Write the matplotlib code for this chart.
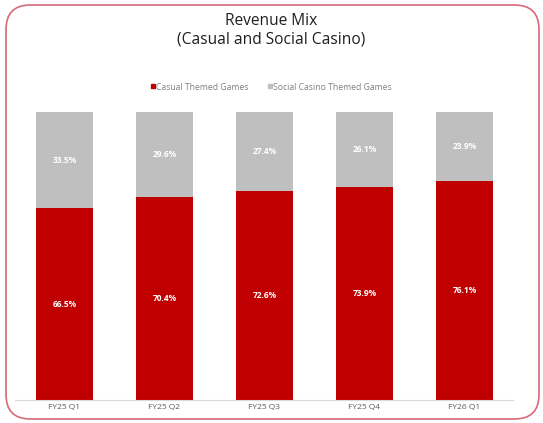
import matplotlib.pyplot as plt
from matplotlib.patches import FancyBboxPatch
from matplotlib.lines import Line2D

plt.rcParams['font.family'] = ['Open Sans', 'DejaVu Sans']

quarters = ['FY25 Q1', 'FY25 Q2', 'FY25 Q3', 'FY25 Q4', 'FY26 Q1']
casual = [66.5, 70.4, 72.6, 73.9, 76.1]
social = [33.5, 29.6, 27.4, 26.1, 23.9]

RED = '#C00000'
GREY = '#BFBFBF'

fig = plt.figure(figsize=(5.43, 4.23), dpi=100)

# rounded frame around the whole card
frame = FancyBboxPatch((6 / 543, 4 / 423), 533 / 543, 414 / 423,
                       boxstyle='round,pad=0,rounding_size=0.045',
                       transform=fig.transFigure, fill=False,
                       edgecolor='#D46A7A', linewidth=1.2,
                       mutation_aspect=543 / 423)
fig.patches.append(frame)

ax = fig.add_axes([15 / 543, 23 / 423, 498 / 543, 288 / 423])
x = list(range(len(quarters)))
ax.bar(x, casual, width=0.57, color=RED)
ax.bar(x, social, width=0.57, bottom=casual, color=GREY)

for i in x:
    ax.text(i, casual[i] / 2, f'{casual[i]:.1f}%', ha='center', va='center',
            color='white', fontsize=6, fontweight='bold')
    ax.text(i, casual[i] + social[i] / 2, f'{social[i]:.1f}%', ha='center',
            va='center', color='white', fontsize=6, fontweight='bold')

ax.set_xlim(-0.495, 4.485)
ax.set_ylim(0, 100)
ax.set_xticks(x)
ax.set_xticklabels(quarters, fontsize=6, color='#595959')
ax.tick_params(axis='x', length=0, pad=3)
ax.set_yticks([])
for s in ['top', 'right', 'left']:
    ax.spines[s].set_visible(False)
ax.spines['bottom'].set_color('#D9D9D9')
ax.spines['bottom'].set_linewidth(0.8)

fig.text(0.5, 1 - 21 / 423, 'Revenue Mix', ha='center', va='center',
         fontsize=11.2, color='#1F1F1F')
fig.text(0.5, 1 - 39 / 423, '(Casual and Social Casino)', ha='center',
         va='center', fontsize=11.2, color='#1F1F1F')

handles = [Line2D([], [], marker='s', linestyle='none', markersize=2.2,
                  color=RED),
           Line2D([], [], marker='s', linestyle='none', markersize=2.2,
                  color=GREY)]
fig.legend(handles, ['Casual Themed Games', 'Social Casino Themed Games'],
           loc='center', bbox_to_anchor=(0.5, 1 - 87 / 423), ncol=2,
           frameon=False, fontsize=6.2, labelcolor='#808080',
           handlelength=0.4, handletextpad=0.2, columnspacing=2.2)

fig.savefig('out.png', dpi=100)
